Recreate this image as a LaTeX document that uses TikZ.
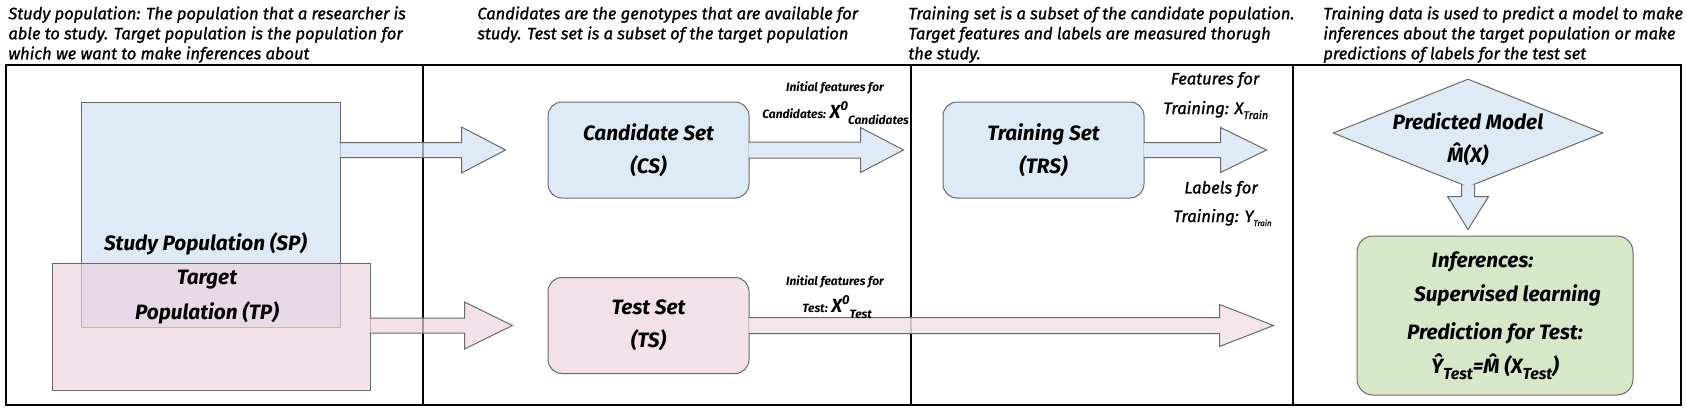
\documentclass[tikz,border=0pt]{standalone}
\usepackage{fontspec}
\setmainfont{Fira Sans}
\newfontfamily\medfont{Fira Sans}[FakeBold=1.2]
\usetikzlibrary{shapes.geometric,calc}

\definecolor{setblue}{RGB}{222,235,247}
\definecolor{setpink}{RGB}{242,225,232}
\definecolor{setgreen}{RGB}{214,232,200}
\definecolor{popblue}{RGB}{208,225,242}
\definecolor{poppink}{RGB}{236,212,223}
\definecolor{edgegray}{RGB}{105,105,105}

% horizontal block arrow: style, from, to, shaft half, head half, head length
\newcommand{\fatarrow}[6]{%
  \path[#1] let \p1=#2, \p2=#3 in
    (\x1-0.5pt,\y2+#4) -- (\x2-#6,\y2+#4) -- (\x2-#6,\y2+#5) -- (\x2,\y2)
    -- (\x2-#6,\y2-#5) -- (\x2-#6,\y2-#4) -- (\x1-0.5pt,\y2-#4);}

\begin{document}
\begin{tikzpicture}[x=0.5pt,y=-0.5pt,font=\itshape,
  frameline/.style={line width=1.1pt},
  setbox/.style={draw=edgegray,line width=0.5pt,rounded corners=7pt,minimum width=100.5pt,minimum height=48pt,inner sep=0pt,align=center,font=\itshape\bfseries\fontsize{10.4}{16.5}\selectfont},
  popbox/.style={draw=edgegray,line width=0.5pt,fill opacity=0.7,inner sep=0pt},
  boxlabel/.style={inner sep=0pt,align=center,font=\itshape\bfseries\fontsize{10.4}{17.5}\selectfont},
  note/.style={font=\medfont\itshape\fontsize{8.25}{10}\selectfont,align=left,inner sep=0pt,anchor=north west},
  small/.style={font=\itshape\bfseries\fontsize{6}{8}\selectfont,inner sep=0pt},
  featlabel/.style={font=\medfont\itshape\fontsize{8.3}{10}\selectfont,inner sep=0pt},
  fatarrow/.style={draw=edgegray,line width=0.5pt,fill=#1}]

\useasboundingbox (0,0) rectangle (1687,413);

% frame and columns
\draw[frameline] (6,65) rectangle (1681,405);
\foreach \xd in {423,911,1293}
  \draw[frameline] (\xd,65) -- (\xd,405);

% column headers
\node[note] (head1) at (8,6) {Study population: The population that a researcher is\\able to study. Target population is the population for\\which we want to make inferences about};
\node[note] (head2) at (477,6) {Candidates are the genotypes that are available for\\study. Test set is a subset of the target population};
\node[note] (head3) at (908,6) {Training set is a subset of the candidate population.\\Target features and labels are measured thorugh\\the study.};
\node[note] (head4) at (1323,6) {Training data is used to predict a model to make\\inferences about the target population or make\\predictions of labels for the test set};

% sets
\node[setbox,fill=setblue] (cs) at (648.5,150) {Candidate Set\\(CS)};
\node[setbox,fill=setpink] (ts) at (648.5,325.5) {Test Set\\(TS)};
\node[setbox,fill=setblue] (trs) at (1043.5,150) {Training Set\\(TRS)};
\node[diamond,draw=edgegray,line width=0.5pt,fill=setblue,minimum width=135pt,minimum height=54pt,inner sep=0pt] (pm) at (1468,133) {};
\node[setbox,fill=setgreen,minimum width=138pt,minimum height=79.5pt,rounded corners=8pt,font=\itshape\bfseries\fontsize{10.4}{17}\selectfont] (inf) at (1495,315.5)
  {Inferences:\hspace*{1.2em}\\ \hspace*{1.2em}Supervised learning\\[2pt] Prediction for Test:\\ \^{Y}\raisebox{-3pt}{\fontsize{8}{8}\selectfont Test}=\^{M} (X\raisebox{-3pt}{\fontsize{8}{8}\selectfont Test})};

% populations
\node[popbox,fill=popblue,minimum width=129.5pt,minimum height=112.5pt] (sp) at (210.5,214.5) {};
\node[popbox,fill=poppink,minimum width=159pt,minimum height=63.5pt] (tp) at (211,326.5) {};

% block arrows
\fatarrow{fatarrow=popblue,fill opacity=0.7}{(sp.east |- cs.west)}{($(cs.west)+(-42,0)$)}{3.75pt}{11.5pt}{22pt}
\fatarrow{fatarrow=poppink,fill opacity=0.7}{(tp.east |- ts.west)}{($(ts.west)+(-35,0)$)}{3.75pt}{11.75pt}{24pt}
\fatarrow{fatarrow=setblue}{(cs.east)}{($(cs.east)+(154,0)$)}{4pt}{11.25pt}{21.5pt}
\fatarrow{fatarrow=setpink,fill opacity=0.85}{(ts.east)}{($(ts.east)+(524,0)$)}{4pt}{10.5pt}{27pt}
\fatarrow{fatarrow=setblue}{(trs.east)}{($(trs.east)+(122,0)$)}{3.75pt}{11.25pt}{23pt}
\path[fatarrow=setblue] let \p1=(pm.south), \p2=(inf.north) in
  (\x1+3.25pt,\y1+1.5pt) -- (\x1+3.25pt,\y2+19.5pt) -- (\x1+10.25pt,\y2+19.5pt) -- (\x1,\y2+3pt)
  -- (\x1-10.25pt,\y2+19.5pt) -- (\x1-3.25pt,\y2+19.5pt) -- (\x1-3.25pt,\y1+1.5pt);

% texts on shapes
\node[boxlabel] (splabel) at ($(sp.south)+(-5,-84)$) {Study Population (SP)};
\node[boxlabel] (tplabel) at ($(tp.north)+(-4,34.5)$) {Target\\Population (TP)};
\node[boxlabel,font=\itshape\bfseries\fontsize{10.4}{16.5}\selectfont] (pmlabel) at ($(pm.center)+(0,6)$) {Predicted Model\\\^{M}(X)};

% feature labels
\node[small] (csnote) at (835,88) {Initial features for};
\node[small,anchor=base west] (csfeat) at (762,118) {Candidates: {\fontsize{9.5}{10}\selectfont X}\raisebox{4pt}{\fontsize{6.5}{8}\selectfont 0}\raisebox{-3pt}{Candidates}};
\node[small] (tsnote) at (835,282) {Initial features for};
\node[small,anchor=base west] (tsfeat) at (802,312) {Test: {\fontsize{9.5}{10}\selectfont X}\raisebox{4pt}{\fontsize{6.5}{8}\selectfont 0}\raisebox{-3pt}{Test}};
\node[featlabel] (trnote) at (1215,80) {Features for};
\node[featlabel,anchor=base west] (trfeat) at (1163,114) {Training: X\raisebox{-2.5pt}{\fontsize{5.5}{7}\selectfont Train}};
\node[featlabel] (lbnote) at (1221,189) {Labels for};
\node[featlabel,anchor=base west] (lbfeat) at (1173,222) {Training: Y\raisebox{-2pt}{\fontsize{4}{5}\selectfont Train}};
\end{tikzpicture}
\end{document}
